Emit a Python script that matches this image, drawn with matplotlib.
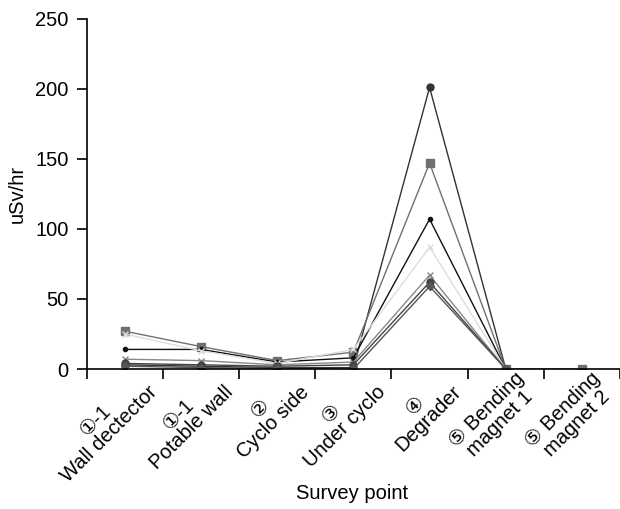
import numpy as np
import matplotlib
matplotlib.use('Agg')
import matplotlib.pyplot as plt
from matplotlib.ticker import FixedLocator, NullFormatter

plt.rcParams['font.family'] = ['Liberation Sans', 'DejaVu Sans', 'Noto Sans CJK JP']

# Pontos de medição
categorias = ['①-1\nWall dectector', '①-1\nPotable wall', '②\nCyclo side',
              '③\nUnder cyclo', '④\nDegrader', '⑤ Bending\nmagnet 1',
              '⑤ Bending\nmagnet 2']

# Séries (uSv/hr), nan = sem medida
serie_1 = [3, 2, 1, 1, 201, 0, np.nan]
serie_2 = [27, 16, 6, 12, 147, 0, 0]
serie_3 = [14, 14, 5, 8, 107, 0, np.nan]
serie_4 = [25, 13, 4, 14, 87, 0, np.nan]
serie_5 = [7, 6, 3, 5, 67, 0, np.nan]
serie_6 = [4, 3, 2, 3, 62, 0, np.nan]
serie_7 = [2, 1, 0.5, 0, 59, 0, np.nan]

series = [serie_1, serie_2, serie_3, serie_4, serie_5, serie_6, serie_7]
cores = ['#333333', '#707070', '#111111', '#dddddd', '#888888', '#444444', '#555555']
marcadores = ['o', 's', 'o', 'x', 'x', 'o', 'D']
tamanhos = [5, 6, 3, 5, 5, 5, 4]

fig = plt.figure(figsize=(6.2, 5.09), dpi=100)
ax = fig.add_axes([0.140, 0.275, 0.860, 0.688])

x = np.arange(len(categorias))
for s, c, m, ms in zip(series, cores, marcadores, tamanhos):
    ax.plot(x, s, color=c, linewidth=1.0, marker=m, markersize=ms,
            markeredgecolor=c, markerfacecolor=c)

ax.set_xlim(-0.5, len(categorias) - 0.5)
ax.set_ylim(0, 250)
ax.set_yticks(np.arange(0, 251, 50))

# rótulos alinhados à direita, terminando perto da divisa seguinte
ax.set_xticks(x + 0.47)
ax.set_xticklabels(categorias, rotation=45, ha='right',
                   multialignment='center', fontsize=14.5, linespacing=1.0)
ax.tick_params(axis='x', which='major', length=0, pad=0)
ax.xaxis.set_minor_locator(FixedLocator(np.arange(-0.5, len(categorias), 1.0)))
ax.xaxis.set_minor_formatter(NullFormatter())
ax.tick_params(axis='x', which='minor', length=7, width=1.2, direction='out')
ax.tick_params(axis='y', labelsize=14.5, length=7, width=1.2, direction='out', pad=6)

ax.spines['top'].set_visible(False)
ax.spines['right'].set_visible(False)
ax.spines['left'].set_linewidth(1.2)
ax.spines['bottom'].set_linewidth(1.2)

ax.set_ylabel('uSv/hr', fontsize=14.5, labelpad=6)
fig.text(0.568, 0.031, 'Survey point', fontsize=14.5, ha='center', va='center')

fig.savefig('out.png', dpi=100)
